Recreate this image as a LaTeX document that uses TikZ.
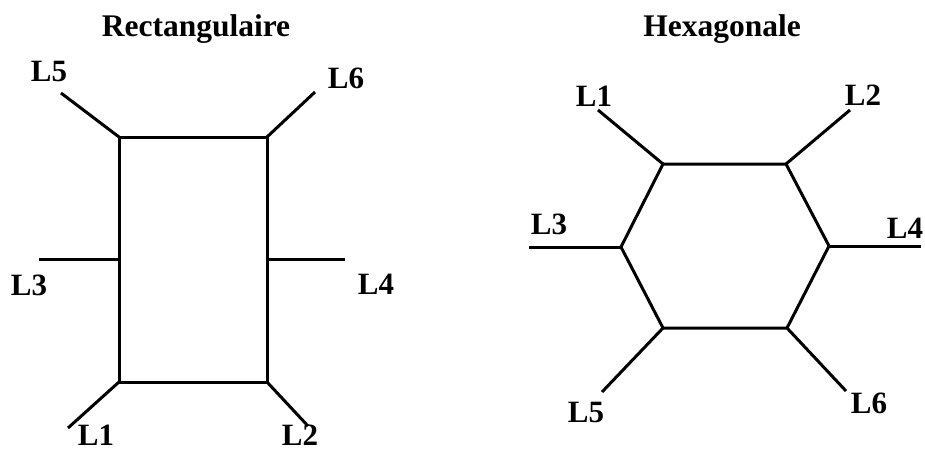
\documentclass[tikz,border=0pt]{standalone}
\usepackage{fontspec}
\setmainfont{Liberation Serif}
\begin{document}
\begin{tikzpicture}[x=1pt,y=-1pt,
  edge/.style={line width=3pt,line cap=butt,line join=miter},
  lbl/.style={font=\fontsize{31}{31}\selectfont\bfseries,inner sep=0pt,anchor=center},
  ttl/.style={font=\fontsize{31.5}{31.5}\selectfont\bfseries,inner sep=0pt,anchor=base}]
\useasboundingbox (0,0) rectangle (925,452);
% titles
\node[ttl] (t1) at (196,37) {Rectangulaire};
\node[ttl] (t2) at (722,37) {Hexagonale};
% rectangle
\coordinate (ra) at (119,137);
\coordinate (rb) at (267,137);
\coordinate (rc) at (267,382);
\coordinate (rd) at (119,382);
\coordinate (rl) at (119,259);
\coordinate (rr) at (267,259);
\draw[edge] (ra) -- (rb) -- (rc) -- (rd) -- cycle;
\coordinate (e5) at (61,93);
\coordinate (e6) at (315,92);
\coordinate (e3) at (39,259);
\coordinate (e4) at (345,259);
\coordinate (e1) at (68,428);
\coordinate (e2) at (308,426);
\draw[edge] (ra) -- (e5);
\draw[edge] (rb) -- (e6);
\draw[edge] (rl) -- (e3);
\draw[edge] (rr) -- (e4);
\draw[edge] (rd) -- (e1);
\draw[edge] (rc) -- (e2);
\node[lbl] (rL5) at (49,72) {L5};
\node[lbl] (rL6) at (346,78) {L6};
\node[lbl] (rL3) at (29,285) {L3};
\node[lbl] (rL4) at (376,284) {L4};
\node[lbl] (rL1) at (96,435.5) {L1};
\node[lbl] (rL2) at (300,435.5) {L2};
% hexagon
\coordinate (ha) at (663,164);
\coordinate (hb) at (786,164);
\coordinate (hc) at (829,246);
\coordinate (hd) at (787,328);
\coordinate (he) at (663,328);
\coordinate (hf) at (621,247);
\draw[edge] (ha) -- (hb) -- (hc) -- (hd) -- (he) -- (hf) -- cycle;
\coordinate (f1) at (598,110);
\coordinate (f2) at (850,110);
\coordinate (f3) at (529,247);
\coordinate (f4) at (921,246);
\coordinate (f5) at (602,392);
\coordinate (f6) at (846,391);
\draw[edge] (ha) -- (f1);
\draw[edge] (hb) -- (f2);
\draw[edge] (hf) -- (f3);
\draw[edge] (hc) -- (f4);
\draw[edge] (he) -- (f5);
\draw[edge] (hd) -- (f6);
\node[lbl] (hL1) at (594,96) {L1};
\node[lbl] (hL2) at (863,95) {L2};
\node[lbl] (hL3) at (549,224) {L3};
\node[lbl] (hL4) at (905,228) {L4};
\node[lbl] (hL5) at (586,412) {L5};
\node[lbl] (hL6) at (869,403) {L6};
\end{tikzpicture}
\end{document}
